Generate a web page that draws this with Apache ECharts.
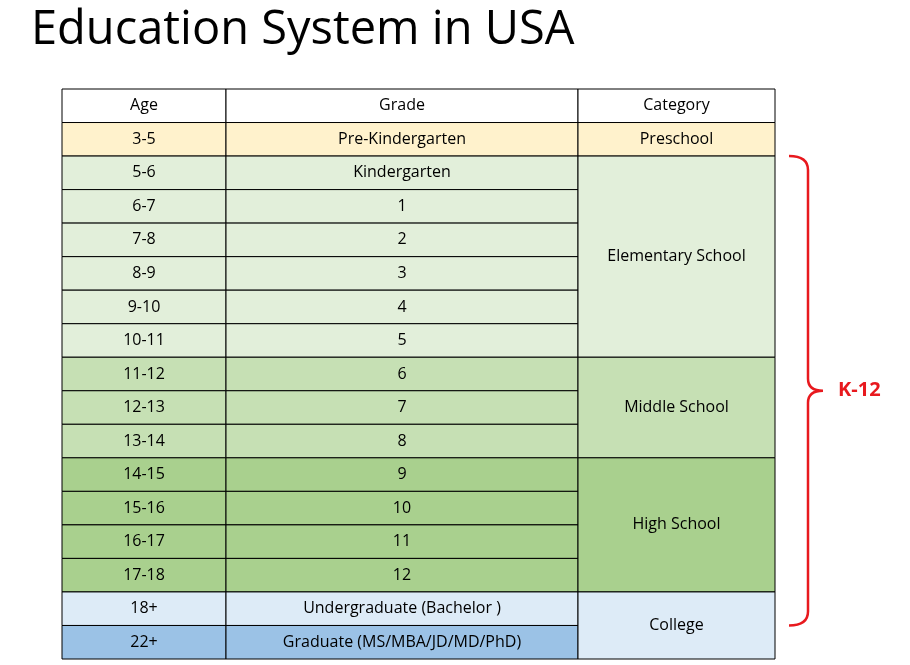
<!DOCTYPE html>
<html><head><meta charset="utf-8">
<script src="https://cdn.jsdelivr.net/npm/echarts@6/dist/echarts.min.js"></script>
<style>html,body{margin:0;padding:0;background:#fff}#c{width:910px;height:665px}</style>
</head><body><div id="c"></div>
<script>
const headers = ['Age','Grade','Category'];
const ages = ['3-5','5-6','6-7','7-8','8-9','9-10','10-11','11-12','12-13','13-14','14-15','15-16','16-17','17-18','18+','22+'];
const grades = ['Pre-Kindergarten','Kindergarten','1','2','3','4','5','6','7','8','9','10','11','12','Undergraduate (Bachelor )','Graduate (MS/MBA/JD/MD/PhD)'];
const rowColors = ['#FFF2CC','#E2EFDA','#E2EFDA','#E2EFDA','#E2EFDA','#E2EFDA','#E2EFDA','#C6E0B4','#C6E0B4','#C6E0B4','#A9D08E','#A9D08E','#A9D08E','#A9D08E','#DDEBF7','#9BC2E6'];
// category spans: [name, firstRow, rowCount, color]
const categories = [['Preschool',0,1,'#FFF2CC'],['Elementary School',1,6,'#E2EFDA'],['Middle School',7,3,'#C6E0B4'],['High School',10,4,'#A9D08E'],['College',14,2,'#DDEBF7']];
const colEdges = [0,164,516,713];
const bracket = {label:'K-12', from:1, to:14};

const cells = [];
headers.forEach((h,i)=>cells.push([colEdges[i],colEdges[i+1],0,1,h,'#ffffff']));
ages.forEach((a,r)=>{
  cells.push([colEdges[0],colEdges[1],r+1,r+2,a,rowColors[r]]);
  cells.push([colEdges[1],colEdges[2],r+1,r+2,grades[r],rowColors[r]]);
});
categories.forEach(c=>cells.push([colEdges[2],colEdges[3],c[1]+1,c[1]+1+c[2],c[0],c[3]]));

const font = '"Open Sans", "Noto Sans", sans-serif';
const chart = echarts.init(document.getElementById('c'));
chart.setOption({
  animation:false,
  title:{text:'Education System in USA',left:26,top:2,textStyle:{fontFamily:font,fontSize:47,fontWeight:'normal',color:'#000'}},
  grid:{left:62,right:135,top:89,bottom:6},
  xAxis:{type:'value',min:0,max:713,show:false},
  yAxis:{type:'value',min:0,max:17,inverse:true,show:false},
  series:[{
    type:'custom',clip:false,
    data:cells,
    encode:{x:[0,1],y:[2,3]},
    renderItem:(p,api)=>{
      const a=api.coord([api.value(0),api.value(2)]), b=api.coord([api.value(1),api.value(3)]);
      const c=cells[p.dataIndex];
      return {type:'group',children:[
        {type:'rect',shape:{x:a[0],y:a[1],width:b[0]-a[0],height:b[1]-a[1]},
          style:{fill:c[5],stroke:'#000',lineWidth:1}},
        {type:'text',style:{x:(a[0]+b[0])/2,y:(a[1]+b[1])/2,text:c[4],fill:'#000',fontSize:16,fontFamily:font,align:'center',verticalAlign:'middle'}}
      ]};
    }
  },{
    type:'custom',clip:false,
    data:[[bracket.from+1,bracket.to+2]],
    renderItem:(p,api)=>{
      const t=api.coord([713,api.value(0)]), b=api.coord([713,api.value(1)]);
      const x0=t[0]+14, x1=t[0]+33, xm=t[0]+48, ym=(t[1]+b[1])/2;
      const path=`M${x0},${t[1]} Q${x1},${t[1]} ${x1},${t[1]+14} L${x1},${ym-12} Q${x1},${ym} ${xm},${ym} Q${x1},${ym} ${x1},${ym+12} L${x1},${b[1]-14} Q${x1},${b[1]} ${x0},${b[1]}`;
      return {type:'group',children:[
        {type:'path',shape:{pathData:path},style:{fill:null,stroke:'#E8191E',lineWidth:2.5}},
        {type:'text',style:{x:xm+15,y:ym,text:bracket.label,fill:'#E8191E',fontSize:20,fontWeight:'bold',fontFamily:font,verticalAlign:'middle'}}
      ]};
    }
  }]
});
</script></body></html>
